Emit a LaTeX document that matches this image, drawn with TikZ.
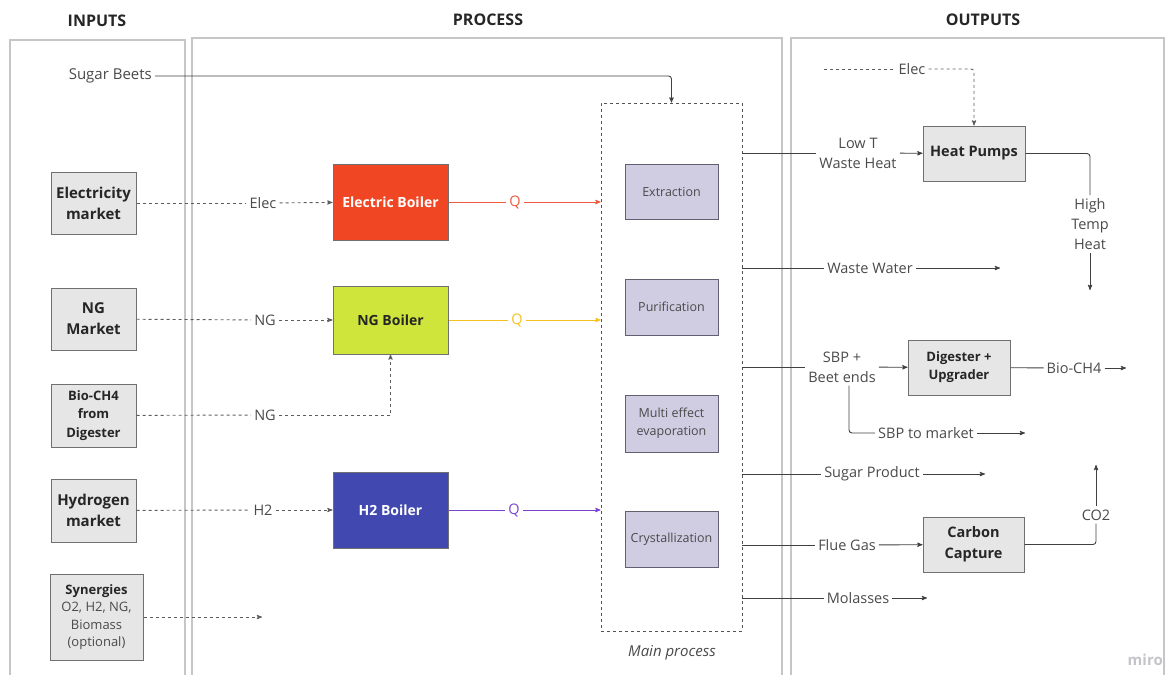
\documentclass[tikz,border=0pt]{standalone}
\usepackage{fontspec}
\setmainfont{Open Sans}
\usepackage{tikz}
\usetikzlibrary{arrows}
\usetikzlibrary{calc}
\usetikzlibrary{positioning}

\definecolor{framegray}{HTML}{C6C6C6}
\definecolor{boxgray}{HTML}{E6E6E6}
\definecolor{boxline}{HTML}{707070}
\definecolor{procfill}{HTML}{D0CDE3}
\definecolor{procline}{HTML}{606070}
\definecolor{linegray}{HTML}{404040}
\definecolor{textgray}{HTML}{4A4A4A}
\definecolor{textdark}{HTML}{262626}
\definecolor{eboilc}{HTML}{F04623}
\definecolor{ngboilc}{HTML}{CFE53C}
\definecolor{htwoboilc}{HTML}{4149B0}
\definecolor{qred}{HTML}{EE5A3E}
\definecolor{qyellow}{HTML}{F3C21E}
\definecolor{qpurple}{HTML}{7B44CF}
\definecolor{mirogray}{HTML}{C4C4C8}

\begin{document}
\begin{tikzpicture}[>=stealth',x=1pt,y=-1pt]
		\tikzstyle{colframe}=[draw=framegray,line width=1.2pt];
		\tikzstyle{heading}=[font=\fontsize{16}{19}\selectfont\bfseries,text=textdark];
		\tikzstyle{lbl}=[font=\fontsize{14.5}{20}\selectfont,text=textgray,inner sep=3pt,align=center];
		\tikzstyle{inbox}=[rectangle,draw=boxline,fill=boxgray,line width=1pt,
			font=\fontsize{15}{21}\selectfont\bfseries,text=textdark,align=center,inner sep=0pt];
		\tikzstyle{outbox}=[inbox,minimum width=102pt,minimum height=55pt];
		\tikzstyle{stepbox}=[rectangle,draw=procline,fill=procfill,line width=1pt,
			minimum width=93pt,font=\fontsize{12.5}{18}\selectfont,text=textgray,align=center,inner sep=0pt];
		\tikzstyle{boiler}=[rectangle,draw=boxline,line width=1pt,minimum width=115pt,
			font=\fontsize{14}{17}\selectfont\bfseries,inner sep=0pt];
		\tikzstyle{flow}=[draw=linegray,line width=0.9pt];
		\tikzstyle{fuel}=[draw=linegray!85,line width=0.9pt,dash pattern=on 3pt off 3pt];
		\tikzstyle{qline}=[line width=0.9pt];

		\useasboundingbox (0,0) rectangle (1166,674);

		% column frames
		\draw[colframe] (10,676) |- (185,40) -- (185,676);
		\draw[colframe] (192,676) |- (782,38) -- (782,676);
		\draw[colframe] (791,676) |- (1164,38) -- (1164,676);
		\node[heading] (hin) at (97,21) {INPUTS};
		\node[heading] (hproc) at (488,20) {PROCESS};
		\node[heading] (hout) at (983,20) {OUTPUTS};

		% inputs
		\node[inbox,minimum width=85pt,minimum height=62pt] (elecm) at (93.5,203) {Electricity\\market};
		\node[inbox,minimum width=85pt,minimum height=62pt] (ngm) at (93.5,319) {NG\\Market};
		\node[inbox,minimum width=85pt,minimum height=63pt,font=\fontsize{13}{18.5}\selectfont\bfseries] (biom) at (93.5,415.5) {Bio-CH4\\from\\Digester};
		\node[inbox,minimum width=85pt,minimum height=63pt] (htwom) at (93.5,510.5) {Hydrogen\\market};
		\node[inbox,minimum width=93pt,minimum height=86pt,font=\fontsize{13}{17.5}\selectfont] (syn) at (96.5,617)
			{\textbf{Synergies}\\{\color{textgray}O2, H2, NG,}\\{\color{textgray}Biomass}\\{\color{textgray}(optional)}};

		% boilers
		\node[boiler,fill=eboilc,text=white,minimum height=76pt] (eboil) at (390.5,202) {Electric Boiler};
		\node[boiler,fill=ngboilc,text=textdark,minimum height=68pt] (ngboil) at (390.5,320) {NG Boiler};
		\node[boiler,fill=htwoboilc,text=white,minimum height=76pt] (htwoboil) at (390.5,510) {H2 Boiler};

		% main process
		\node[draw=linegray!90,line width=0.9pt,dash pattern=on 3pt off 3pt,minimum width=141pt,minimum height=528pt] (mainp) at (671.5,367) {};
		\node[font=\fontsize{15}{18}\selectfont\itshape,text=textgray] (mainlbl) at (672,653) {Main process};
		\node[stepbox,minimum height=55pt] (extr) at (671.5,191.5) {Extraction};
		\node[stepbox,minimum height=56pt] (purif) at (671.5,307) {Purification};
		\node[stepbox,minimum height=57pt] (evap) at (671.5,423.5) {Multi effect\\evaporation};
		\node[stepbox,minimum height=56pt] (cryst) at (671.5,539) {Crystallization};

		% sugar beets
		\node[lbl,font=\fontsize{15}{20}\selectfont,anchor=east] (beets) at (155,76) {Sugar Beets};
		\draw[flow,->,rounded corners=3pt] (beets) -| (mainp.north);

		% fuels to boilers
		\node[lbl,fill=white] (lelec) at (263,203) {Elec};
		\draw[fuel] (elecm) -- (lelec);
		\draw[fuel,->] (lelec) -- (eboil);
		\node[lbl,fill=white] (lng) at (265,320) {NG};
		\draw[fuel] (ngm) -- (lng);
		\draw[fuel,->] (lng) -- (ngboil);
		\node[lbl,fill=white] (lbio) at (265,415) {NG};
		\draw[fuel] (biom) -- (lbio);
		\draw[fuel,->] (lbio) -| (ngboil);
		\node[lbl,fill=white] (lhtwo) at (263,510) {H2};
		\draw[fuel] (htwom) -- (lhtwo);
		\draw[fuel,->] (lhtwo) -- (htwoboil);
		\coordinate (synend) at (262,617);
		\draw[fuel,->] (syn) -- (synend);

		% heat to main process
		\node[lbl,text=qred] (qe) at (515,202) {Q};
		\draw[qline,draw=qred] (eboil) -- (qe);
		\draw[qline,draw=qred,->] (qe) -- (mainp.west |- qe);
		\node[lbl,text=qyellow] (qng) at (517,320) {Q};
		\draw[qline,draw=qyellow] (ngboil) -- (qng);
		\draw[qline,draw=qyellow,->] (qng) -- (mainp.west |- qng);
		\node[lbl,text=qpurple] (qh) at (514,510) {Q};
		\draw[qline,draw=qpurple] (htwoboil) -- (qh);
		\draw[qline,draw=qpurple,->] (qh) -- (mainp.west |- qh);

		% outputs
		\node[outbox,font=\fontsize{14.5}{20}\selectfont\bfseries] (hp) at (974,153.5) {Heat Pumps};
		\node[outbox,font=\fontsize{13}{18}\selectfont\bfseries] (dig) at (959,367.5) {Digester +\\Upgrader};
		\node[outbox,minimum width=101pt,font=\fontsize{14.5}{21}\selectfont\bfseries] (cc) at (973.5,544.5) {Carbon\\Capture};

		\node[lbl] (lowt) at (858,153) {Low T\\Waste Heat};
		\draw[flow] (mainp.east |- lowt) -- (lowt);
		\draw[flow,->] (lowt) -- (hp);
		\coordinate (elecstart) at (824,69);
		\node[lbl,fill=white] (lelectwo) at (912,69) {Elec};
		\draw[fuel] (elecstart) -- (lelectwo);
		\draw[fuel,->,rounded corners=3pt] (lelectwo) -| (hp);
		\node[lbl] (htemp) at (1090,224) {High\\Temp\\Heat};
		\coordinate (htend) at (1090,290);
		\draw[flow,rounded corners=3pt] (hp) -| (htemp);
		\draw[flow,->] (htemp) -- (htend);

		\node[lbl] (ww) at (870,268) {Waste Water};
		\coordinate (wwend) at (1000,268);
		\draw[flow] (mainp.east |- ww) -- (ww);
		\draw[flow,->] (ww) -- (wwend);

		\node[lbl] (sbp) at (842,367) {SBP +\\Beet ends};
		\draw[flow] (mainp.east |- sbp) -- (sbp);
		\draw[flow,->] (sbp) -- (dig);
		\node[lbl] (bioch) at (1074,368) {Bio-CH4};
		\coordinate (bioend) at (1126,368);
		\draw[flow] (dig) -- (bioch);
		\draw[flow,->] (bioch) -- (bioend);
		\node[lbl] (sbpm) at (926,433) {SBP to market};
		\coordinate (sbpmend) at (1025,433);
		\draw[flow,rounded corners=3pt] ([xshift=7pt]sbp.south) |- (sbpm);
		\draw[flow,->] (sbpm) -- (sbpmend);

		\node[lbl] (sugar) at (872,474) {Sugar Product};
		\coordinate (sugarend) at (985,474);
		\draw[flow] (mainp.east |- sugar) -- (sugar);
		\draw[flow,->] (sugar) -- (sugarend);

		\node[lbl] (flue) at (847,545) {Flue Gas};
		\draw[flow] (mainp.east |- flue) -- (flue);
		\draw[flow,->] (flue) -- (cc);
		\node[lbl] (cotwo) at (1096,515) {CO2};
		\coordinate (cotwoend) at (1096,465);
		\draw[flow,rounded corners=3pt] (cc) -| (cotwo);
		\draw[flow,->] (cotwo) -- (cotwoend);

		\node[lbl] (mol) at (858,598) {Molasses};
		\coordinate (molend) at (927,598);
		\draw[flow] (mainp.east |- mol) -- (mol);
		\draw[flow,->] (mol) -- (molend);

		% watermark
		\node[font=\fontsize{15}{18}\selectfont\bfseries,text=mirogray,anchor=east,inner sep=0pt] (miro) at (1163,660) {miro};
	\end{tikzpicture}
\end{document}
